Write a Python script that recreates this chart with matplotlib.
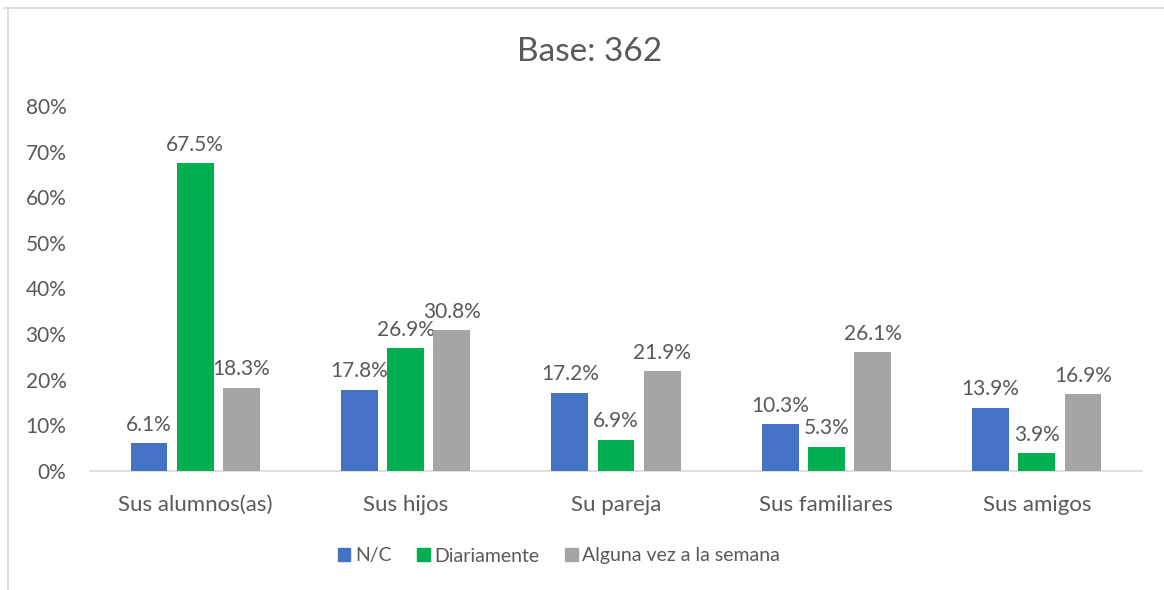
import matplotlib
matplotlib.use("Agg")
import matplotlib.pyplot as plt
import numpy as np
from matplotlib.lines import Line2D

categories = ["Sus alumnos(as)", "Sus hijos", "Su pareja", "Sus familiares", "Sus amigos"]
series_names = ["N/C", "Diariamente", "Alguna vez a la semana"]
nc = [6.1, 17.8, 17.2, 10.3, 13.9]
diariamente = [67.5, 26.9, 6.9, 5.3, 3.9]
alguna_vez = [18.3, 30.8, 21.9, 26.1, 16.9]
yticks = [0, 10, 20, 30, 40, 50, 60, 70, 80]
title = "Base: 362"

colors = ["#4472C4", "#00B050", "#A5A5A5"]
txt = "#595959"
plt.rcParams['font.family'] = ['Lato', 'DejaVu Sans']

fig = plt.figure(figsize=(11.64, 5.9), dpi=100)
W, H = 1164, 590
ax = fig.add_axes([90 / W, 1 - 471 / H, (1142 - 90) / W, (471 - 106) / H])

x = np.arange(len(categories))
bw = 0.175
step = 0.22
for i, (vals, c, name) in enumerate(zip([nc, diariamente, alguna_vez], colors, series_names)):
    pos = x + (i - 1) * step
    ax.bar(pos, vals, width=bw, color=c, label=name, zorder=3)
    for p, v in zip(pos, vals):
        ax.annotate(f"{v:.1f}%", (p, v), xytext=(0, 6), textcoords="offset points",
                    ha="center", va="bottom", fontsize=15, color=txt)

ax.set_xlim(-0.5, len(categories) - 0.5)
ax.set_ylim(0, 80)
ax.set_yticks(yticks)
ax.set_yticklabels([f"{t}%" for t in yticks], fontsize=15, color=txt)
ax.set_xticks(x)
ax.set_xticklabels(categories, fontsize=16, color=txt)
ax.tick_params(axis="both", length=0)
ax.tick_params(axis="y", pad=17)
ax.tick_params(axis="x", pad=17)
for s in ["top", "right", "left"]:
    ax.spines[s].set_visible(False)
ax.spines["bottom"].set_color("#D9D9D9")
ax.spines["bottom"].set_linewidth(1.2)

fig.text(590 / W, 1 - 52 / H, title, ha="center", va="center", fontsize=24, color=txt)

handles = [plt.Rectangle((0, 0), 1, 1, color=c) for c in colors]
fig.legend(handles, series_names, loc="center", bbox_to_anchor=(559 / W, 1 - 556 / H),
           ncol=3, frameon=False, fontsize=14, labelcolor=txt,
           handlelength=0.65, handleheight=0.65, handletextpad=0.25, columnspacing=1.3)

fig.add_artist(Line2D([4 / W, 1], [1 - 8 / H, 1 - 8 / H], color="#D9D9D9", lw=1.2, transform=fig.transFigure))
fig.add_artist(Line2D([8 / W, 8 / W], [0, 1 - 8 / H], color="#D9D9D9", lw=1.2, transform=fig.transFigure))

fig.savefig("out.png", dpi=100, facecolor="white")
